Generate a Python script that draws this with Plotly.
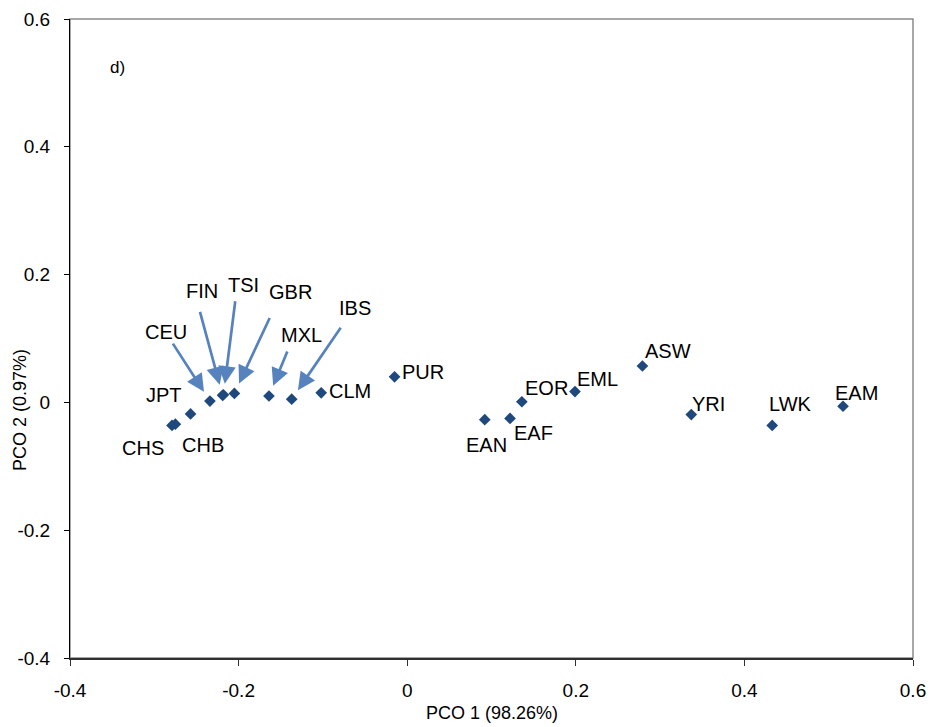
import plotly.graph_objects as go

# Principal coordinates of the populations
populations = ["CHS", "CHB", "JPT", "CEU", "FIN", "TSI", "GBR", "MXL", "IBS", "CLM",
               "PUR", "EAN", "EAF", "EOR", "EML", "ASW", "YRI", "LWK", "EAM"]
pco1 = [-0.279, -0.275, -0.257, -0.234, -0.219, -0.218, -0.205, -0.164, -0.137, -0.102,
        -0.015, 0.092, 0.122, 0.136, 0.199, 0.279, 0.337, 0.433, 0.517]
pco2 = [-0.036, -0.034, -0.018, 0.002, 0.011, 0.012, 0.014, 0.010, 0.005, 0.015,
        0.040, -0.027, -0.025, 0.001, 0.017, 0.057, -0.019, -0.036, -0.006]

x_ticks = [-0.4, -0.2, 0, 0.2, 0.4, 0.6]
y_ticks = [-0.4, -0.2, 0, 0.2, 0.4, 0.6]

FONT = "Liberation Sans, Arial, sans-serif"

# Label placement (pixel offsets from each point: dx right, dy down)
label_offset = {
    "CHS": (-29, 23), "CHB": (28, 21), "JPT": (-27, -19), "CEU": (-44, -69),
    "FIN": (-21, -104), "TSI": (20, -110), "GBR": (56, -101), "MXL": (33, -61),
    "IBS": (63, -91), "CLM": (29, -2), "PUR": (28, -5), "EAN": (2, 25),
    "EAF": (23, 15), "EOR": (25, -14), "EML": (23, -13), "ASW": (26, -15),
    "YRI": (17, -11), "LWK": (18, -21), "EAM": (13, -13),
}
# Arrow tails (pixel offsets from the point) for the crowded cluster
arrow_tail = {
    "CEU": (-38, -59), "FIN": (-23, -85), "TSI": (12, -95),
    "GBR": (36, -77), "MXL": (19, -46), "IBS": (50, -73),
}

fig = go.Figure()
fig.add_trace(go.Scatter(
    x=pco1, y=pco2, mode="markers",
    marker=dict(symbol="diamond", size=9, color="#1F497D"),
    hoverinfo="text", text=populations, showlegend=False,
))

annotations = []
for name, xv, yv in zip(populations, pco1, pco2):
    dx, dy = label_offset[name]
    annotations.append(dict(
        x=xv, y=yv, xref="x", yref="y", text=name, showarrow=False,
        xshift=dx, yshift=-dy,
        font=dict(family=FONT, size=20, color="#000000"),
    ))
    if name in arrow_tail:
        ax, ay = arrow_tail[name]
        annotations.append(dict(
            x=xv, y=yv, xref="x", yref="y", text="", showarrow=True,
            ax=ax, ay=ay, axref="pixel", ayref="pixel",
            arrowhead=2, arrowsize=1.3, arrowwidth=2.7, arrowcolor="#5683BE",
            standoff=11,
        ))

# Panel tag and axis titles
annotations += [
    dict(x=0.0558, y=0.924, xref="paper", yref="paper", text="d)", showarrow=False,
         xanchor="center", yanchor="middle",
         font=dict(family=FONT, size=17, color="#000000")),
    dict(x=0.5, y=-0.086, xref="paper", yref="paper", text="PCO 1 (98.26%)",
         showarrow=False, xanchor="center", yanchor="middle",
         font=dict(family=FONT, size=18, color="#000000")),
    dict(x=-0.0593, y=0.388, xref="paper", yref="paper", text="PCO 2 (0.97%)",
         showarrow=False, textangle=-90, xanchor="center", yanchor="middle",
         font=dict(family=FONT, size=18, color="#000000")),
]

fig.update_layout(
    width=931, height=727,
    margin=dict(l=70, r=18, t=19, b=69, autoexpand=False),
    paper_bgcolor="white", plot_bgcolor="white",
    annotations=annotations,
    shapes=[dict(type="rect", xref="paper", yref="paper", x0=0, y0=0, x1=1, y1=1,
                 line=dict(color="#8A8A8A", width=1.5), layer="below")],
    font=dict(family=FONT, color="#000000"),
)
fig.update_xaxes(
    range=[-0.4, 0.6], tickvals=x_ticks, ticktext=[f"{v:g}" for v in x_ticks],
    showgrid=False, zeroline=False, automargin=False,
    showline=True, linecolor="#303030", linewidth=2,
    ticks="outside", ticklen=6, tickcolor="#303030", tickwidth=1,
    tickfont=dict(size=19), ticklabelstandoff=8,
)
fig.update_yaxes(
    range=[-0.4, 0.6], tickvals=y_ticks, ticktext=[f"{v:g}" for v in y_ticks],
    showgrid=False, zeroline=False, automargin=False,
    showline=True, linecolor="#000000", linewidth=1,
    ticks="outside", ticklen=5, tickcolor="#000000",
    tickfont=dict(size=19), ticklabelstandoff=10,
)

fig.write_html("out.html")
